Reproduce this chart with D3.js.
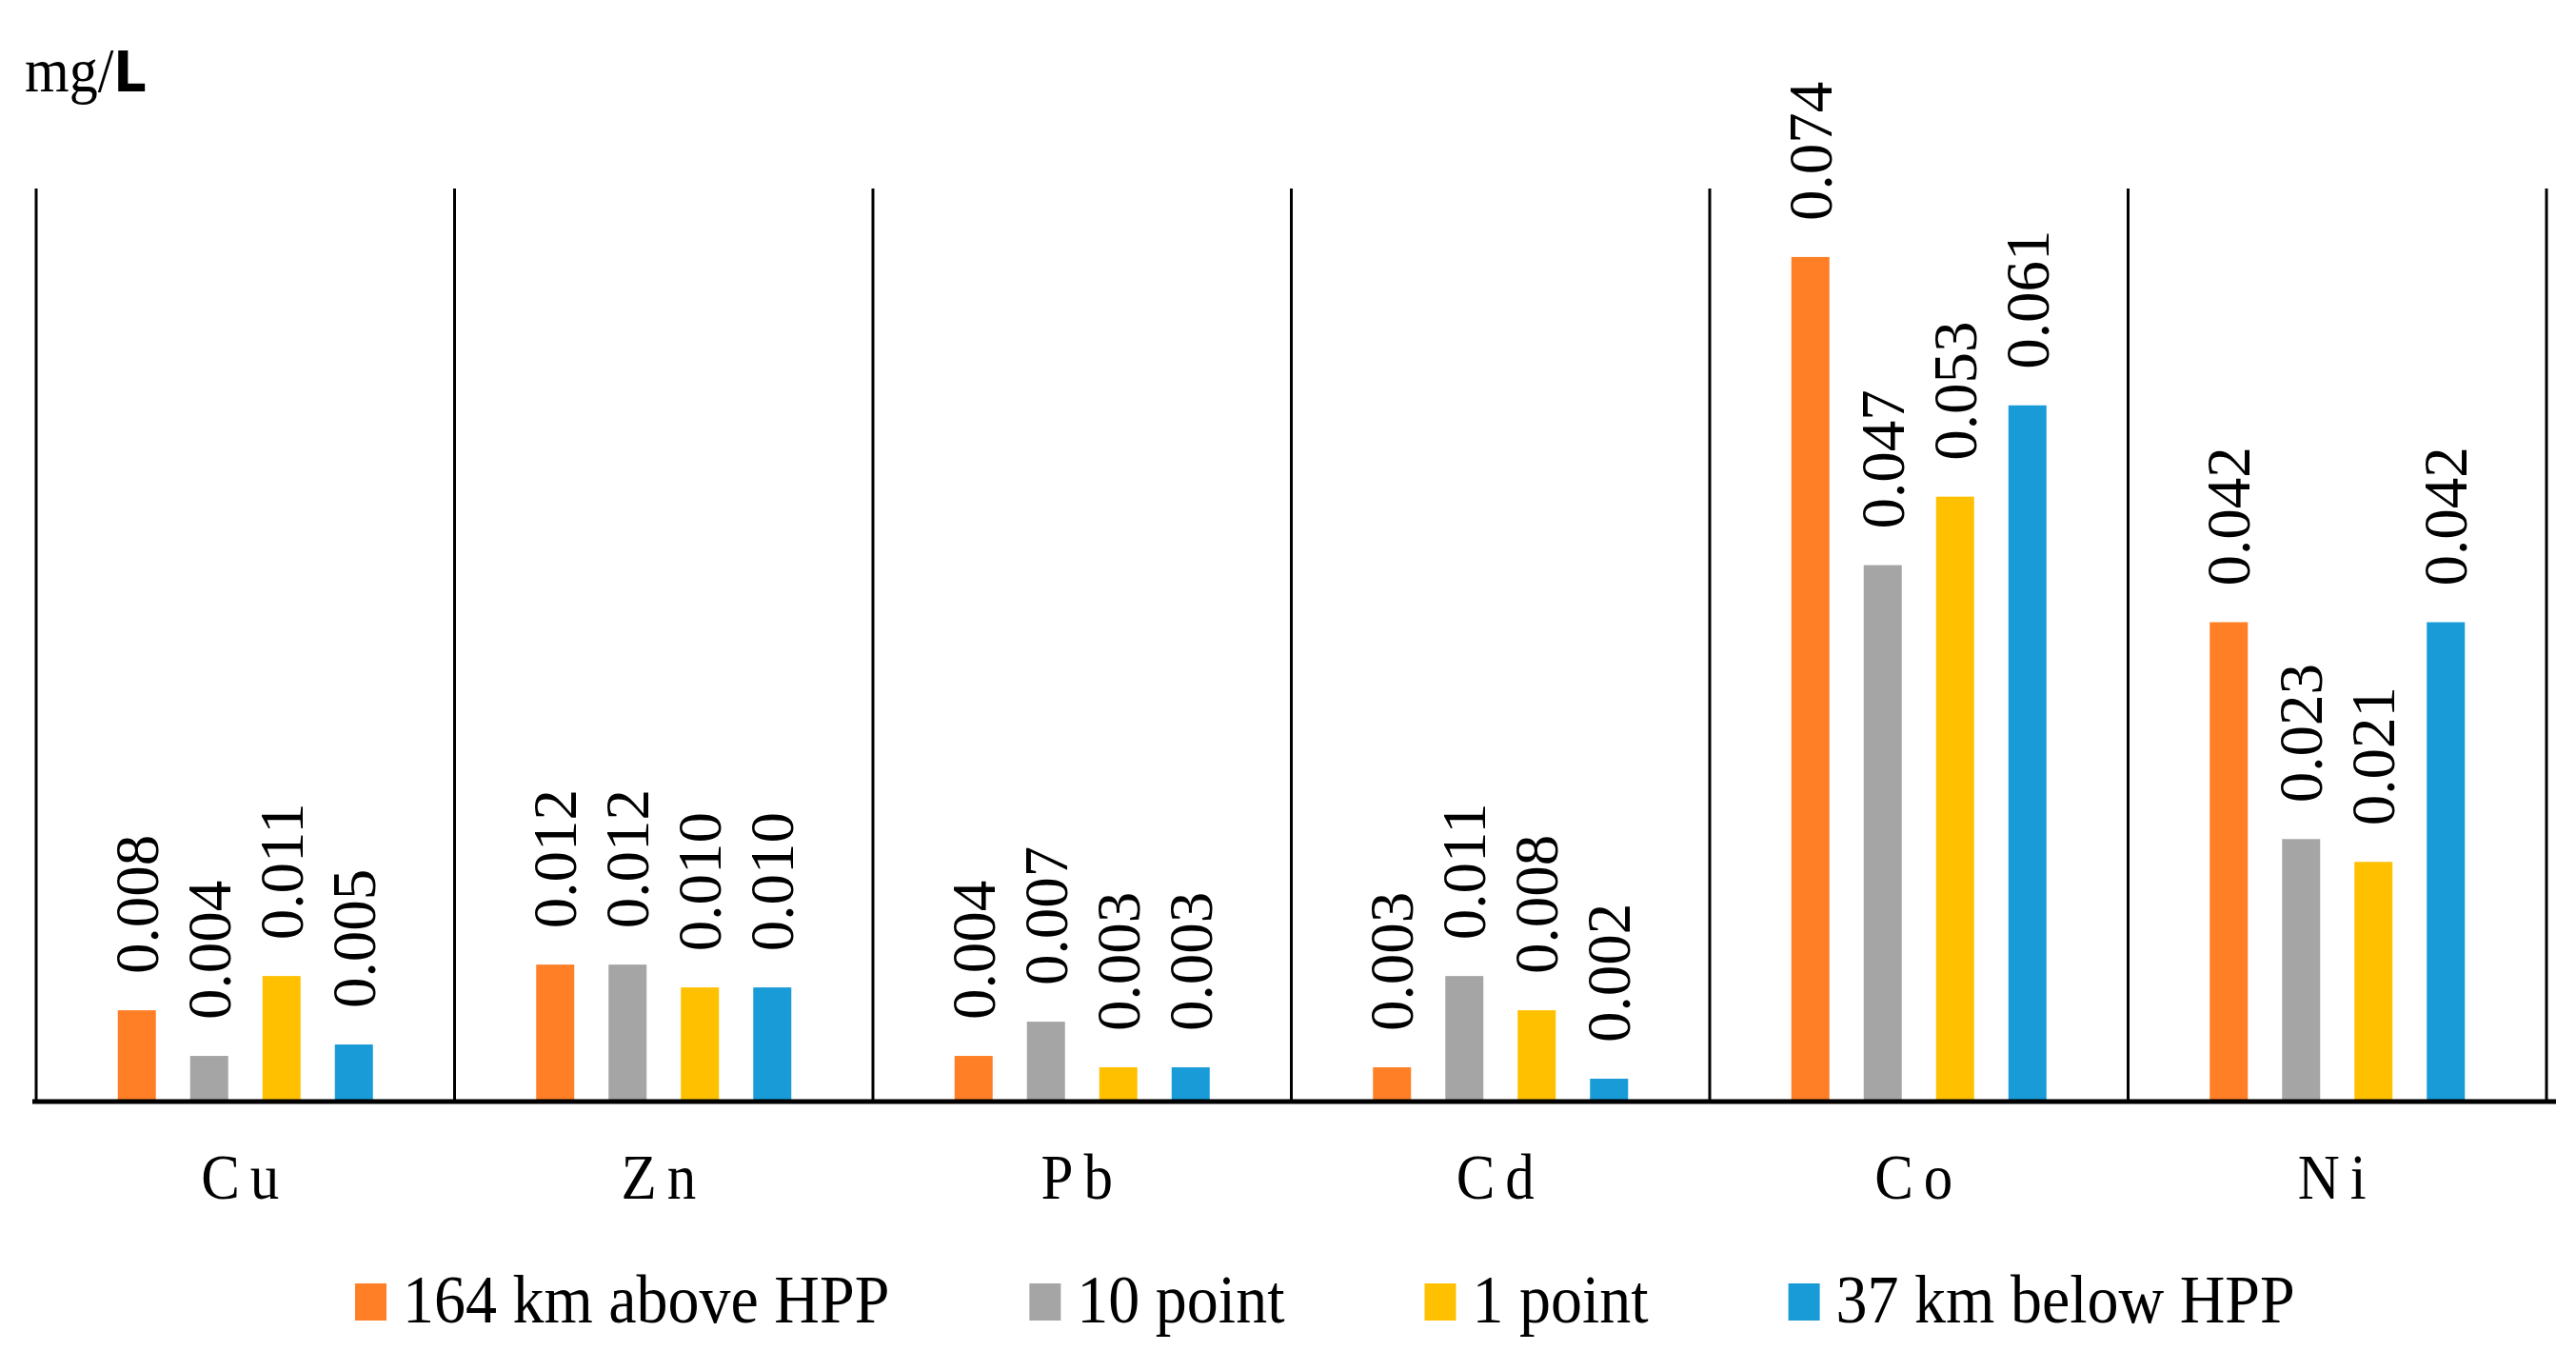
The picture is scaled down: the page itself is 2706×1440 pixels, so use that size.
<!DOCTYPE html>
<html>
<head>
<meta charset="utf-8">
<script src="https://cdn.jsdelivr.net/npm/d3@7"></script>
<style>
html,body{margin:0;padding:0;background:#fff;}
svg{display:block;}
text{font-family:"Liberation Serif","Times New Roman",serif;fill:#000;}
</style>
</head>
<body>
<svg id="chart" width="2706" height="1440"></svg>
<script>
const categories = ["Cu", "Zn", "Pb", "Cd", "Co", "Ni"];
const seriesNames = ["164 km above HPP", "10 point", "1 point", "37 km below HPP"];
const seriesColors = ["#FF7F27", "#A5A5A5", "#FFC000", "#189BD7"];
const s164above = [0.008, 0.012, 0.004, 0.003, 0.074, 0.042];
const s10point  = [0.004, 0.012, 0.007, 0.011, 0.047, 0.023];
const s1point   = [0.011, 0.010, 0.003, 0.008, 0.053, 0.021];
const s37below  = [0.005, 0.010, 0.003, 0.002, 0.061, 0.042];
const yDomain = [0, 0.08];
const unitLabel = "mg/";
const unitLabelL = "L";

const seriesValues = [s164above, s10point, s1point, s37below];

const svg = d3.select("#chart");
const plotLeft = 38, plotRight = 2675, plotTop = 198, plotBottom = 1157;

const x = d3.scaleBand().domain(categories).range([plotLeft, plotRight]).padding(0);
const innerW = 268;
const xi = d3.scaleBand().domain(seriesNames).range([0, innerW]).paddingInner(0.474).paddingOuter(0);
const y = d3.scaleLinear().domain(yDomain).range([plotBottom, plotTop]);

// vertical separators
const seps = categories.map(c => x(c)).concat([x(categories[categories.length-1]) + x.bandwidth()]);
svg.append("g").selectAll("line").data(seps).join("line")
  .attr("x1", d => d).attr("x2", d => d)
  .attr("y1", y(yDomain[1])).attr("y2", y(0))
  .attr("stroke", "#000").attr("stroke-width", 3);

// bars
const groups = svg.append("g").selectAll("g").data(categories).join("g")
  .attr("transform", c => `translate(${x(c) + (x.bandwidth() - innerW)/2},0)`);

groups.selectAll("rect").data((c, ci) => seriesNames.map((s, si) => ({s, si, v: seriesValues[si][ci]})))
  .join("rect")
  .attr("x", d => xi(d.s)).attr("width", xi.bandwidth())
  .attr("y", d => y(d.v)).attr("height", d => y(0) - y(d.v))
  .attr("fill", d => seriesColors[d.si]);

groups.selectAll("text").data((c, ci) => seriesNames.map((s, si) => ({s, si, v: seriesValues[si][ci]})))
  .join("text")
  .attr("transform", d => `translate(${xi(d.s) + xi.bandwidth()/2},${y(d.v) - 38}) rotate(-90)`)
  .attr("dominant-baseline", "central")
  .attr("text-anchor", "start")
  .attr("font-family", "Liberation Serif")
  .attr("font-size", 65)
  .text(d => d3.format(".3f")(d.v));

// x axis line
svg.append("line").attr("x1", plotLeft - 4).attr("x2", plotRight + 10)
  .attr("y1", y(0)).attr("y2", y(0)).attr("stroke", "#000").attr("stroke-width", 5);

// category labels
svg.append("g").selectAll("text").data(categories).join("text")
  .attr("transform", c => `translate(${x(c) + x.bandwidth()/2},1259) scale(1,1.12)`)
  .attr("text-anchor", "middle")
  .attr("font-size", 61)
  .attr("letter-spacing", 11)
  .text(c => c);

// unit label
const ut = svg.append("text").attr("transform", "translate(26,96) scale(1,1.1)").attr("font-size", 60);
ut.append("tspan").text(unitLabel);
ut.append("tspan").attr("font-family", "DejaVu Sans").attr("font-weight", "600").attr("font-size", 54).text(unitLabelL);

// legend
const leg = svg.append("g");
let lx = 373;
seriesNames.forEach((name, i) => {
  leg.append("rect").attr("x", lx).attr("y", 1348).attr("width", 33).attr("height", 39).attr("fill", seriesColors[i]);
  const t = leg.append("text").attr("transform", `translate(${lx + 50},1389) scale(1,1.1)`)
    .attr("font-size", 66).text(name);
  const w = t.node().getComputedTextLength();
  lx = lx + 50 + w + 147;
});
</script>
</body>
</html>
